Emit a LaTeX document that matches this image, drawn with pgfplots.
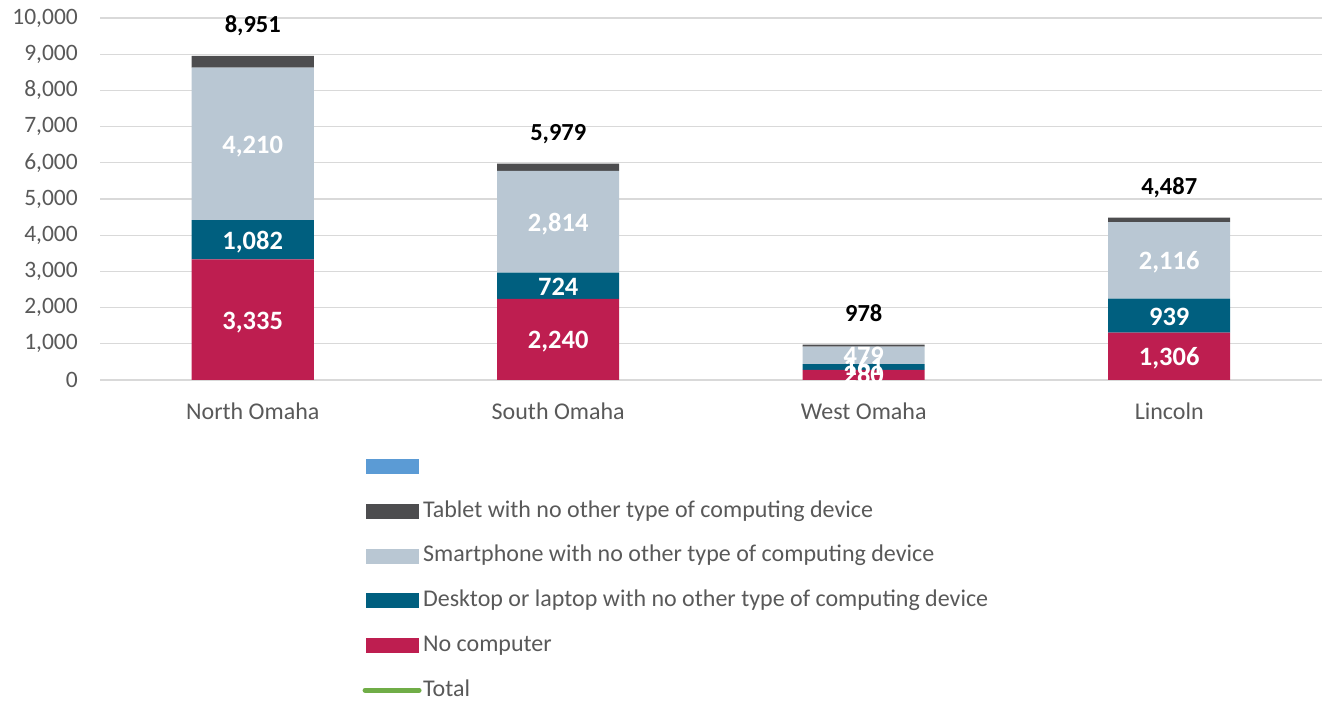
\documentclass[border=0pt]{standalone}
\usepackage{pgfplots}
\pgfplotsset{compat=1.18}
\usepackage{fontspec}
\setmainfont{Carlito}
\definecolor{cNo}{HTML}{BE1E50}
\definecolor{cDesk}{HTML}{005F7F}
\definecolor{cSmart}{HTML}{B9C7D3}
\definecolor{cTab}{HTML}{4D4D4F}
\definecolor{cBlue}{HTML}{5B9BD5}
\definecolor{cTot}{HTML}{70AD47}
\definecolor{cGrid}{HTML}{D9D9D9}
\definecolor{cTxt}{HTML}{595959}
\newcommand{\fs}{\fontsize{23.5bp}{28bp}\selectfont}
\newcommand{\fl}{\fontsize{24bp}{28bp}\selectfont}
\begin{document}
\begin{tikzpicture}
\useasboundingbox (0,0) rectangle (1325bp,702bp);
\begin{axis}[
  at={(100bp,322bp)}, anchor=south west,
  scale only axis, width=1222bp, height=362bp,
  ybar stacked, bar width=122bp,
  xmin=-0.5, xmax=3.5, ymin=0, ymax=10000,
  xtick={0,1,2,3}, xticklabels={North Omaha,South Omaha,West Omaha,Lincoln},
  ytick={0,1000,...,10000},
  scaled y ticks=false,
  /pgf/number format/fixed,
  /pgf/number format/1000 sep={,},
  /pgf/number format/assume math mode=true,
  ymajorgrids, grid style={cGrid, line width=1.3bp},
  axis line style={draw=none},
  major tick length=0pt,
  tick style={draw=none},
  ticklabel style={font=\fs, text=cTxt},
  yticklabel style={inner sep=0pt, xshift=-22bp},
  xticklabel style={inner sep=0pt, yshift=-23bp, font=\fl},
  legend style={at={(0.2147,-0.2072)}, anchor=north west, draw=none, fill=none,
    font=\fl, text=cTxt, inner sep=0pt, row sep=22.8bp, column sep=1.5bp,
    nodes={inner sep=0pt, text height=17bp, text depth=5bp}},
  legend cell align=left,
]
\addplot[fill=cNo, draw=none, forget plot] coordinates {(0,3335) (1,2240) (2,280) (3,1306)};
\addplot[fill=cDesk, draw=none, forget plot] coordinates {(0,1082) (1,724) (2,161) (3,939)};
\addplot[fill=cSmart, draw=none, forget plot] coordinates {(0,4210) (1,2814) (2,479) (3,2116)};
\addplot[fill=cTab, draw=none, forget plot] coordinates {(0,324) (1,201) (2,58) (3,126)};
\addlegendimage{legend image code/.code={\fill[cBlue] (0bp,-7bp) rectangle (52bp,7bp);}}
\addlegendentry{\mbox{}}
\addlegendimage{legend image code/.code={\fill[cTab] (0bp,-7bp) rectangle (52bp,7bp);}}
\addlegendentry{Tablet with no other type of computing device}
\addlegendimage{legend image code/.code={\fill[cSmart] (0bp,-7bp) rectangle (52bp,7bp);}}
\addlegendentry{Smartphone with no other type of computing device}
\addlegendimage{legend image code/.code={\fill[cDesk] (0bp,-7bp) rectangle (52bp,7bp);}}
\addlegendentry{Desktop or laptop with no other type of computing device}
\addlegendimage{legend image code/.code={\fill[cNo] (0bp,-7bp) rectangle (52bp,7bp);}}
\addlegendentry{No computer}
\addlegendimage{legend image code/.code={\draw[cTot, line width=5bp, line cap=round] (-1bp,0bp) -- (53bp,0bp);}}
\addlegendentry{Total}
\end{axis}
\begin{axis}[
  at={(100bp,322bp)}, anchor=south west,
  scale only axis, width=1222bp, height=362bp,
  xmin=-0.5, xmax=3.5, ymin=0, ymax=10000,
  hide axis,
  nodes near coords={\pgfplotspointmeta},
  point meta=explicit symbolic,
]
\addplot[draw=none, mark=none, nodes near coords style={text=white, anchor=base, inner sep=0pt, yshift=-9.4bp, font=\bfseries\fontsize{26.5bp}{30bp}\selectfont}] coordinates {
  (0,1667) [3,335] (1,1120) [2,240] (2,150) [280] (3,653) [1,306]
  (0,3876) [1,082] (1,2602) [724] (2,380) [161] (3,1775) [939]
  (0,6522) [4,210] (1,4371) [2,814] (2,690) [479] (3,3303) [2,116]
};
\addplot[draw=none, mark=none, nodes near coords style={text=black, anchor=base, inner sep=0pt, font=\bfseries\fontsize{24.5bp}{28bp}\selectfont}] coordinates {
  (0,9601) [8,951] (1,6629) [5,979] (2,1628) [978] (3,5137) [4,487]
};
\end{axis}
\end{tikzpicture}
\end{document}
